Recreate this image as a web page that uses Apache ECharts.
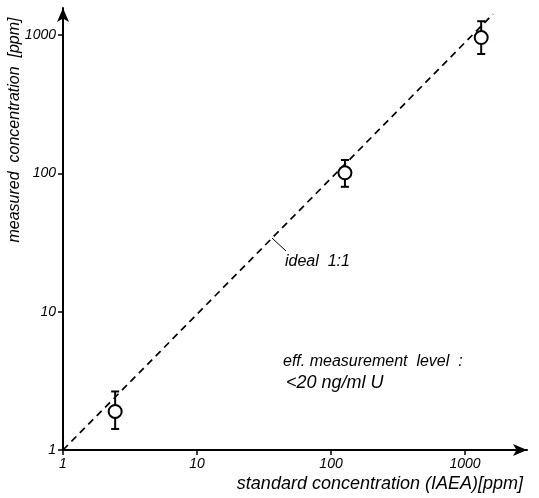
<!DOCTYPE html>
<html>
<head>
<meta charset="utf-8">
<script src="https://cdn.jsdelivr.net/npm/echarts@6/dist/echarts.min.js"></script>
<style>
  html, body { margin: 0; padding: 0; background: #fff; }
  #chart { width: 539px; height: 498px; }
</style>
</head>
<body>
<div id="chart"></div>
<script>
// data
const stdConc = [2.45, 127, 1320];        // standard concentration (IAEA) [ppm]
const measConc = [1.9, 101, 960];         // measured concentration [ppm]
const errLow = [1.42, 80, 730];
const errHigh = [2.65, 125, 1260];
const idealX = [1, 1620];
const idealY = [1, 1420];
const tickValues = [1, 10, 100, 1000];

const font = 'Liberation Sans';

const chart = echarts.init(document.getElementById('chart'));

const points = stdConc.map((x, i) => [x, measConc[i]]);
const bars = stdConc.map((x, i) => [x, errLow[i], errHigh[i]]);
const ideal = idealX.map((x, i) => [x, idealY[i]]);

const axisCommon = {
    type: 'log',
    logBase: 10,
    splitLine: { show: false },
    minorTick: { show: false },
    axisLine: {
        show: true,
        symbol: ['none', 'arrow'],
        symbolSize: [9, 14],
        lineStyle: { color: '#000', width: 2 }
    },
    axisTick: {
        show: true, length: 5, inside: false,
        customValues: tickValues,
        lineStyle: { color: '#000', width: 1.5 }
    },
    axisLabel: {
        customValues: tickValues,
        formatter: v => String(Math.round(v)),
        color: '#000',
        fontFamily: font,
        fontStyle: 'italic',
        fontSize: 14,
        margin: 7
    }
};

const option = {
    animation: false,
    backgroundColor: '#fff',
    grid: { left: 63, right: 12, top: 8, bottom: 48 },
    xAxis: Object.assign({}, axisCommon, { min: 1, max: 2900 }),
    yAxis: Object.assign({}, axisCommon, { min: 1, max: 1570 }),
    series: [
        {
            // ideal 1:1 line
            type: 'line',
            data: ideal,
            symbol: 'none',
            lineStyle: { color: '#000', width: 1.7, type: [7, 5] },
            z: 1
        },
        {
            // error bars
            type: 'custom',
            data: bars,
            renderItem: function (params, api) {
                const x = api.value(0);
                const lo = api.coord([x, api.value(1)]);
                const hi = api.coord([x, api.value(2)]);
                const w = 4;
                const st = { stroke: '#000', lineWidth: 2 };
                return {
                    type: 'group',
                    children: [
                        { type: 'line', shape: { x1: lo[0], y1: lo[1], x2: hi[0], y2: hi[1] }, style: st },
                        { type: 'line', shape: { x1: lo[0] - w, y1: lo[1], x2: lo[0] + w, y2: lo[1] }, style: st },
                        { type: 'line', shape: { x1: hi[0] - w, y1: hi[1], x2: hi[0] + w, y2: hi[1] }, style: st }
                    ]
                };
            },
            z: 2
        },
        {
            type: 'scatter',
            data: points,
            symbol: 'circle',
            symbolSize: 13,
            itemStyle: { color: '#fff', borderColor: '#000', borderWidth: 2, opacity: 1 },
            z: 3
        }
    ],
    graphic: [
        {
            type: 'text', x: 15, y: 130, rotation: Math.PI / 2,
            style: {
                text: 'measured  concentration  [ppm]',
                font: 'italic 16px ' + font, fill: '#000',
                align: 'center', verticalAlign: 'middle'
            }
        },
        {
            type: 'text', x: 523, y: 484,
            style: {
                text: 'standard concentration (IAEA)[ppm]',
                font: 'italic 18px ' + font, fill: '#000',
                align: 'right', verticalAlign: 'middle'
            }
        },
        {
            type: 'line',
            shape: { x1: 272, y1: 238, x2: 286, y2: 251 },
            style: { stroke: '#000', lineWidth: 1 }
        },
        {
            type: 'text', x: 285, y: 262,
            style: {
                text: 'ideal  1:1',
                font: 'italic 16px ' + font, fill: '#000',
                verticalAlign: 'middle'
            }
        },
        {
            type: 'text', x: 283, y: 362,
            style: {
                text: 'eff. measurement  level  :',
                font: 'italic 16px ' + font, fill: '#000',
                verticalAlign: 'middle'
            }
        },
        {
            type: 'text', x: 286, y: 383,
            style: {
                text: '<20 ng/ml U',
                font: 'italic 18px ' + font, fill: '#000',
                verticalAlign: 'middle'
            }
        }
    ]
};

chart.setOption(option);
</script>
</body>
</html>
